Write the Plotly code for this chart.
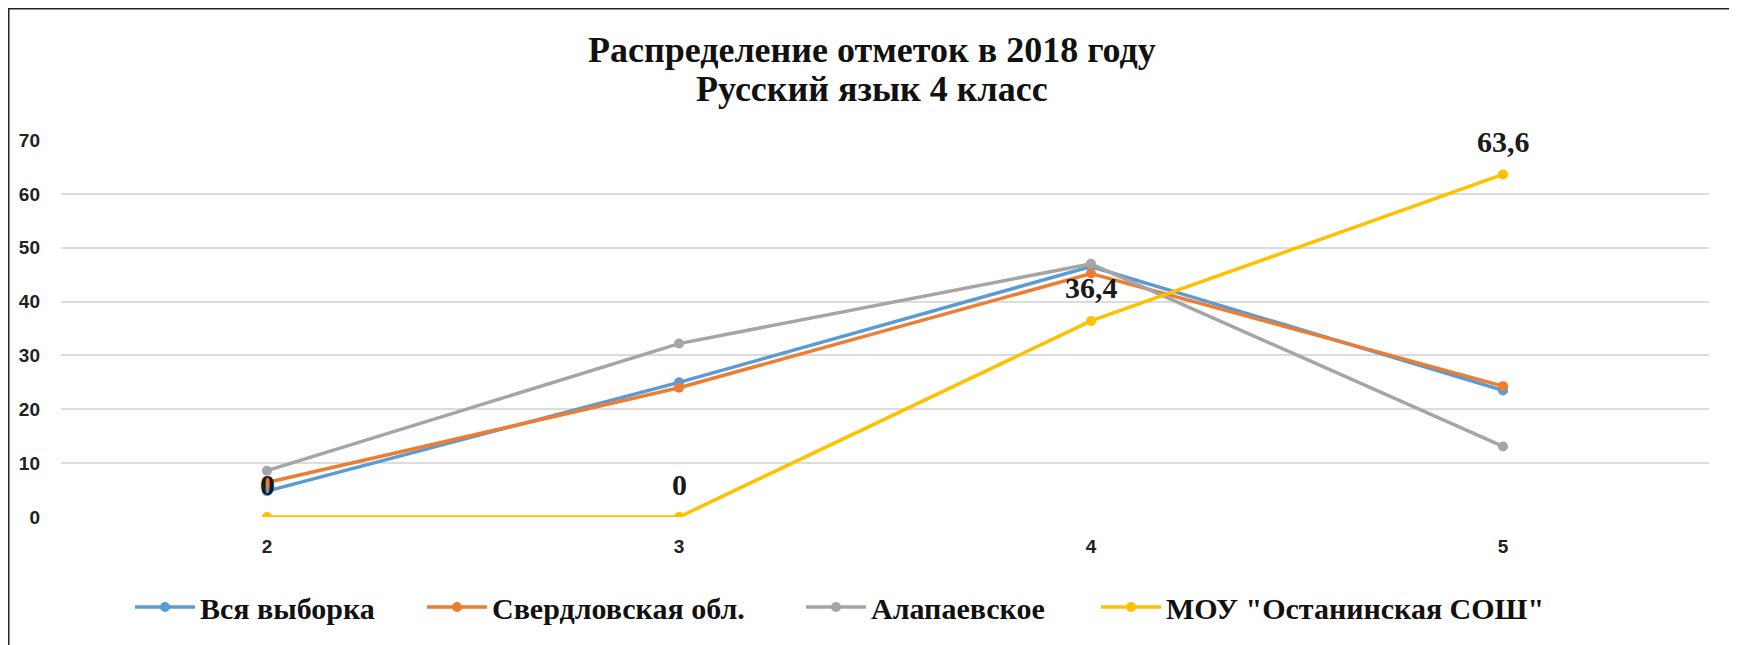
import plotly.graph_objects as go

categories = ["2", "3", "4", "5"]
series_names = ["Вся выборка", "Свердловская обл.", "Алапаевское", 'МОУ "Останинская СОШ"']
vsya = [4.8, 25.0, 46.5, 23.5]
sverd = [6.4, 24.0, 45.2, 24.3]
alap = [8.6, 32.2, 47.0, 13.1]
mou = [0.0, 0.0, 36.4, 63.6]
mou_labels = ["0", "0", "36,4", "63,6"]
y_ticks = [0, 10, 20, 30, 40, 50, 60, 70]
title_lines = ["Распределение отметок в 2018 году", "Русский язык 4 класс"]

colors = ["#5B9BD5", "#ED7D31", "#A5A5A5", "#FFC000"]
legend_left_px = [122, 414, 793, 1088]   # left edge of each legend entry (figure px)
W, H = 1729, 637
ml, mr, mt, mb = 53, 28, 132, 128
pw = W - ml - mr
ph = H - mt - mb

serif = "Liberation Serif"
fig = go.Figure()
legend_layout = {}
for k, (name, vals, col) in enumerate(zip(series_names, [vsya, sverd, alap, mou], colors)):
    lname = "legend" if k == 0 else f"legend{k + 1}"
    fig.add_trace(go.Scatter(
        x=categories, y=vals, name=name, mode="lines+markers",
        line=dict(color=col, width=3.5),
        marker=dict(color=col, size=10, symbol="circle"),
        legend=lname,
    ))
    legend_layout[lname] = dict(
        orientation="h", x=(legend_left_px[k] - ml) / pw, xanchor="left",
        y=-90 / ph, yanchor="middle", bgcolor="rgba(0,0,0,0)",
        font=dict(family=serif, size=30, color="#111", weight="bold"),
        itemwidth=60,
    )

for i, (v, t) in enumerate(zip(mou, mou_labels)):
    fig.add_annotation(x=i, y=v, text=t, showarrow=False, yshift=33,
                       font=dict(family=serif, size=30, color="#1a1a1a", weight="bold"))

for line_text, fy in zip(title_lines, [42, 81]):
    fig.add_annotation(xref="paper", yref="paper", x=(864 - ml) / pw, y=1 + (mt - fy) / ph,
                       xanchor="center", yanchor="middle", showarrow=False, text=line_text,
                       font=dict(family=serif, size=36, color="#111", weight="bold"))

fig.add_shape(type="line", xref="paper", yref="paper",
              x0=-ml / pw, x1=-ml / pw, y0=-mb / ph, y1=1 + mt / ph,
              line=dict(color="#222", width=3))
fig.add_shape(type="line", xref="paper", yref="paper",
              x0=-ml / pw, x1=1 + mr / pw, y0=1 + mt / ph, y1=1 + mt / ph,
              line=dict(color="#222", width=3))

fig.update_layout(
    width=W, height=H,
    margin=dict(l=ml, r=mr, t=mt, b=mb),
    paper_bgcolor="white", plot_bgcolor="white",
    showlegend=True,
    **legend_layout,
)
fig.update_xaxes(type="category", range=[-0.5, 3.5], showgrid=False, zeroline=False,
                 showline=False, ticks="", ticklabelstandoff=16,
                 tickfont=dict(family="Liberation Sans", size=19, color="#222", weight="bold"))
fig.update_yaxes(range=[0, 70], tickvals=y_ticks, showgrid=True, gridcolor="#DCDCDC", gridwidth=1.5,
                 zeroline=False, showline=False, ticks="", ticklabelstandoff=20,
                 tickfont=dict(family="Liberation Sans", size=19, color="#222", weight="bold"))

fig.write_html("out.html")
